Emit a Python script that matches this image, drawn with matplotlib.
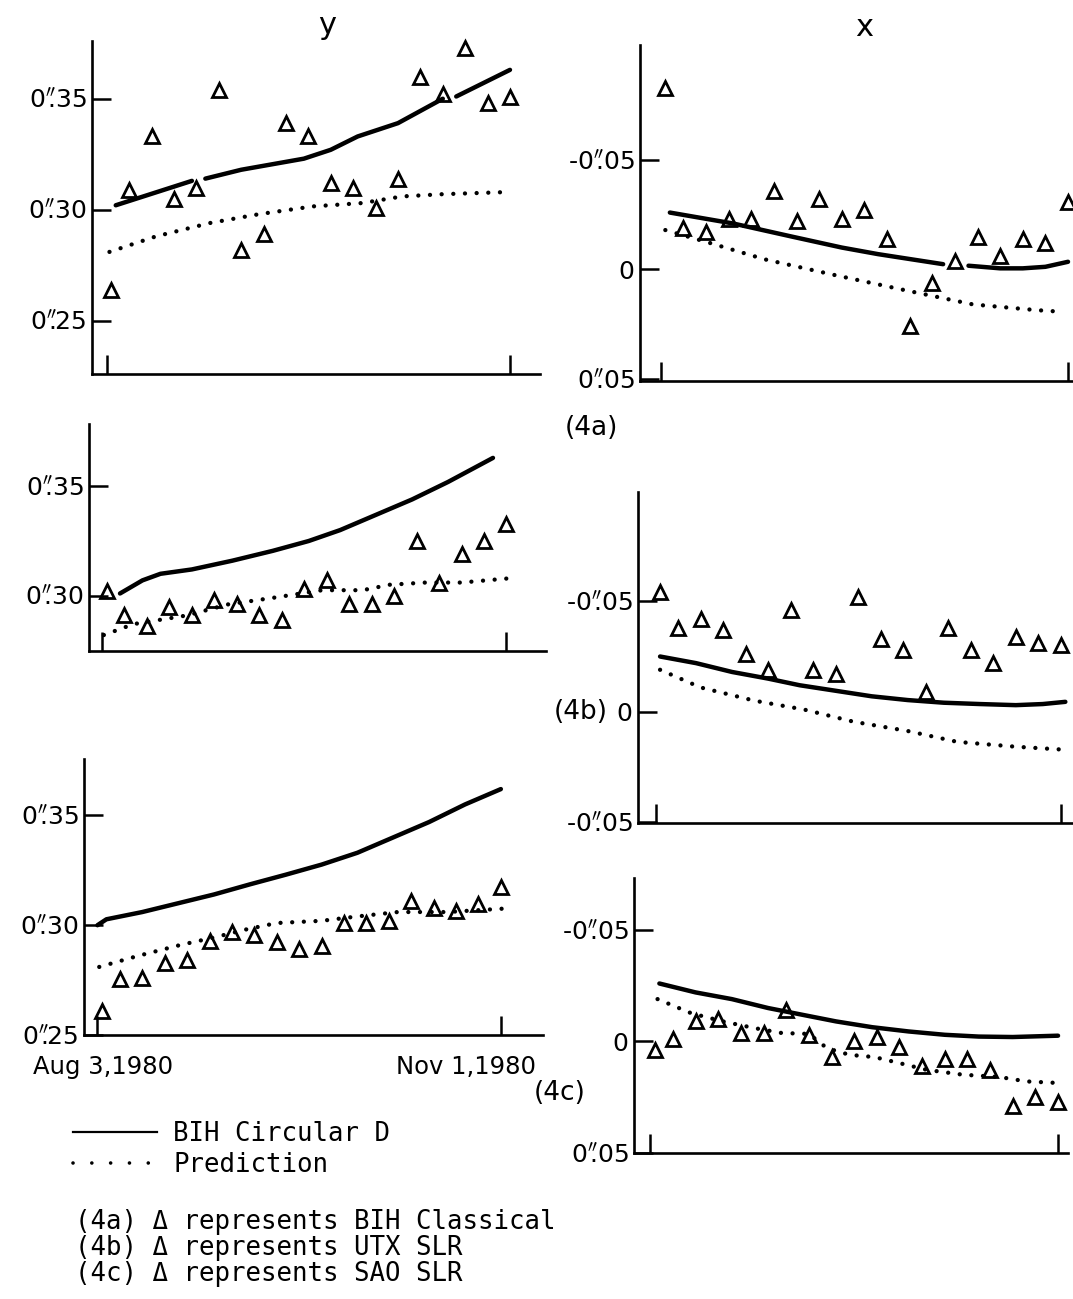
import numpy as np
import matplotlib
matplotlib.use("Agg")
import matplotlib.pyplot as plt
from matplotlib.lines import Line2D

nan = np.nan

# observation epochs (days after Aug 3, 1980), every 5 days up to Nov 1
obs_days = [1, 5, 10, 15, 20, 25, 30, 35, 40, 45, 50, 55, 60, 65, 70, 75, 80, 85, 90]

# ---- (4a) y ----
ay_obs = [0.264, 0.309, 0.333, 0.305, 0.310, 0.354, 0.282, 0.289, 0.339, 0.333,
          0.312, 0.310, 0.301, 0.314, 0.360, 0.352, 0.373, 0.348, 0.351]
ay_bih_day = [2, 19, 20, 22, 30, 44, 50, 56, 65, 75, 77, 78, 90]
ay_bih = [0.302, 0.313, nan, 0.314, 0.318, 0.323, 0.327, 0.333, 0.339, 0.350, nan, 0.351, 0.363]
ay_pred_day = [0.6, 11, 23, 34, 46, 57, 66, 75, 90]
ay_pred = [0.281, 0.288, 0.294, 0.298, 0.3015, 0.303, 0.306, 0.307, 0.308]

# ---- (4a) x ----
ax_obs = [-0.083, -0.019, -0.017, -0.023, -0.023, -0.036, -0.022, -0.032, -0.023, -0.027,
          -0.014, 0.026, 0.006, -0.004, -0.015, -0.006, -0.014, -0.012, -0.031]
ax_bih_day = [2, 16, 29, 40, 48, 55.5, 62.4, 65, 68, 75, 80, 85, 90]
ax_bih = [-0.026, -0.021, -0.015, -0.010, -0.007, -0.0046, -0.0024, nan, -0.0017, -0.0005,
          -0.0005, -0.0012, -0.0035]
ax_pred_day = [1, 11, 23, 38.5, 54, 69, 83, 89]
ax_pred = [-0.018, -0.012, -0.0046, 0.0026, 0.0095, 0.016, 0.0186, 0.0194]

# ---- (4b) y ----
by_obs = [0.302, 0.291, 0.286, 0.295, 0.291, 0.298, 0.296, 0.291, 0.289, 0.303,
          0.307, 0.296, 0.296, 0.300, 0.325, 0.306, 0.319, 0.325, 0.333]
by_bih_day = [4, 9, 13, 20, 29, 38, 46, 53, 61, 69, 77, 87]
by_bih = [0.301, 0.307, 0.310, 0.312, 0.316, 0.3205, 0.325, 0.330, 0.337, 0.344, 0.352, 0.363]
by_pred_day = [0.4, 7, 19, 28, 38, 49, 58, 64, 72, 80, 91]
by_pred = [0.282, 0.287, 0.291, 0.296, 0.299, 0.3025, 0.3025, 0.305, 0.306, 0.306, 0.308]

# ---- (4b) x ----
bx_obs = [-0.054, -0.038, -0.042, -0.037, -0.026, -0.019, -0.046, -0.019, -0.017, -0.052,
          -0.033, -0.028, -0.009, -0.038, -0.028, -0.022, -0.034, -0.031, -0.030]
bx_bih_day = [1, 9, 17, 25, 32, 40, 48, 56, 64, 72, 80, 86, 91]
bx_bih = [-0.025, -0.022, -0.018, -0.015, -0.012, -0.0095, -0.007, -0.0053, -0.0041,
          -0.0035, -0.003, -0.0035, -0.0045]
bx_pred_day = [1, 10, 22, 33, 44, 56, 67, 80, 92]
bx_pred = [-0.019, -0.011, -0.005, -0.001, 0.0045, 0.0087, 0.0136, 0.0158, 0.0173]

# ---- (4c) y ----
cy_obs = [0.261, 0.2755, 0.276, 0.283, 0.284, 0.293, 0.297, 0.2955, 0.2925, 0.289,
          0.2905, 0.301, 0.301, 0.302, 0.311, 0.308, 0.3065, 0.3095, 0.3175]
cy_bih_day = [0, 2, 10, 18, 26, 34, 42, 50, 58, 66, 74, 82, 90]
cy_bih = [0.300, 0.3027, 0.306, 0.310, 0.314, 0.3186, 0.323, 0.3276, 0.333, 0.340, 0.347, 0.355, 0.362]
cy_pred_day = [0.4, 9, 18.5, 26, 33, 40, 50, 58, 67, 78, 91]
cy_pred = [0.281, 0.286, 0.291, 0.2944, 0.298, 0.301, 0.302, 0.304, 0.306, 0.306, 0.3076]

# ---- (4c) x ----
cx_obs = [0.004, -0.001, -0.009, -0.010, -0.004, -0.004, -0.014, -0.003, 0.007, 0.000,
          -0.002, 0.0025, 0.011, 0.008, 0.008, 0.013, 0.029, 0.025, 0.027]
cx_bih_day = [2, 10, 18, 26, 33.5, 41, 49, 57, 65, 72.5, 80, 90]
cx_bih = [-0.026, -0.022, -0.019, -0.015, -0.012, -0.009, -0.0064, -0.0045, -0.003,
          -0.0022, -0.002, -0.0026]
cx_pred_day = [1.6, 9, 16, 23, 29, 35, 39, 44, 49.5, 55, 61, 69, 77, 83, 90]
cx_pred = [-0.019, -0.0127, -0.009, -0.006, -0.0038, -0.0034, 0.003, 0.006, 0.007,
           0.0097, 0.0127, 0.0149, 0.0159, 0.0179, 0.0186]

# 0''.35 style labels (seconds of arc sign over the decimal point)
sec = r"$^{\prime\prime}\!\!$"
y_ticks = [0.25, 0.30, 0.35]
y_labels = ["0" + sec + ".25", "0" + sec + ".30", "0" + sec + ".35"]
x_ticks = [-0.05, 0, 0.05]
x_labels_a = ["-0" + sec + ".05", "0", "0" + sec + ".05"]
x_labels_b = ["-0" + sec + ".05", "0", "-0" + sec + ".05"]
date_labels = ["Aug 3,1980", "Nov 1,1980"]

W, H = 1073, 1299
fig = plt.figure(figsize=(W / 100, H / 100), dpi=100)
fig.patch.set_facecolor("white")


def panel(x0, y0, x1, y1, xlim, ylim):
    a = fig.add_axes([x0 / W, 1 - y1 / H, (x1 - x0) / W, (y1 - y0) / H])
    a.set_xlim(*xlim)
    a.set_ylim(*ylim)
    for s in ["top", "right"]:
        a.spines[s].set_visible(False)
    for s in ["left", "bottom"]:
        a.spines[s].set_linewidth(1.9)
    a.set_xticks([0, 90])
    a.set_xticklabels([])
    a.tick_params(axis="x", direction="in", length=14, width=1.8)
    a.tick_params(axis="y", direction="in", length=13.5, width=1.8, labelsize=18, pad=4)
    a.patch.set_alpha(0)
    return a


def draw(a, obs, bih_d, bih, pred_d, pred):
    a.plot(bih_d, bih, color="black", lw=3.2, solid_capstyle="round", clip_on=False)
    a.plot(pred_d, pred, color="black", lw=3.1, ls=(0, (0.01, 2.7)),
           dash_capstyle="round", clip_on=False)
    a.plot(obs_days, obs, ls="none", marker="^", ms=9.5, mfc="none", mec="black",
           mew=2.0, clip_on=False)


# (4a)
p = panel(92, 41, 540, 374, (-3.3, 96.7), (0.226, 0.376))
draw(p, ay_obs, ay_bih_day, ay_bih, ay_pred_day, ay_pred)
p.set_yticks(y_ticks, y_labels)

p = panel(640, 45, 1073, 381, (-4.6, 91.1), (0.051, -0.1026))
draw(p, ax_obs, ax_bih_day, ax_bih, ax_pred_day, ax_pred)
p.set_yticks(x_ticks, x_labels_a)

# (4b)
p = panel(89, 424, 546, 651, (-2.9, 98.8), (0.2747, 0.3785))
draw(p, by_obs, by_bih_day, by_bih, by_pred_day, by_pred)
p.set_yticks(y_ticks[1:], y_labels[1:])

p = panel(638, 492, 1073, 823, (-3.9, 92.7), (0.0503, -0.0994))
draw(p, bx_obs, bx_bih_day, bx_bih, bx_pred_day, bx_pred)
p.set_yticks(x_ticks, x_labels_b)

# (4c)
p = panel(84, 759, 543, 1035, (-3.0, 99.4), (0.2506, 0.3757))
draw(p, cy_obs, cy_bih_day, cy_bih, cy_pred_day, cy_pred)
p.set_yticks(y_ticks, y_labels)

p = panel(634, 878, 1068, 1153, (-3.6, 92.2), (0.0498, -0.0733))
draw(p, cx_obs, cx_bih_day, cx_bih, cx_pred_day, cx_pred)
p.set_yticks(x_ticks, x_labels_a)

# column titles and panel tags
fig.text(327 / W, 1 - 25 / H, "y", ha="center", va="center", fontsize=22)
fig.text(864 / W, 1 - 28 / H, "x", ha="center", va="center", fontsize=22)
fig.text(591 / W, 1 - 428 / H, "(4a)", ha="center", va="center", fontsize=19)
fig.text(608 / W, 1 - 712 / H, "(4b)", ha="right", va="center", fontsize=19)
fig.text(560 / W, 1 - 1093 / H, "(4c)", ha="center", va="center", fontsize=19)
fig.text(103 / W, 1 - 1067 / H, date_labels[0], ha="center", va="center", fontsize=17.5)
fig.text(466 / W, 1 - 1067 / H, date_labels[1], ha="center", va="center", fontsize=17.5)

# legend
mono = {"family": "DejaVu Sans Mono", "size": 18.5}
h_solid = Line2D([], [], color="black", lw=1.6)
h_dot = Line2D([], [], color="black", lw=2.6, ls=(0, (0.01, 5.2)), dash_capstyle="round")
fig.legend([h_solid, h_dot], ["BIH Circular D", "Prediction"], loc="upper left",
           bbox_to_anchor=(73 / W, 1 - 1121 / H), frameon=False, prop=mono,
           handlelength=3.25, handletextpad=0.65, labelspacing=0.2, borderpad=0,
           borderaxespad=0)

notes = ["(4a) \u0394 represents BIH Classical",
         "(4b) \u0394 represents UTX SLR",
         "(4c) \u0394 represents SAO SLR"]
for i, s in enumerate(notes):
    fig.text(75 / W, 1 - (1222 + 26 * i) / H, s, ha="left", va="center",
             family="DejaVu Sans Mono", fontsize=18.5)

fig.savefig("out.png", dpi=100, facecolor="white")
